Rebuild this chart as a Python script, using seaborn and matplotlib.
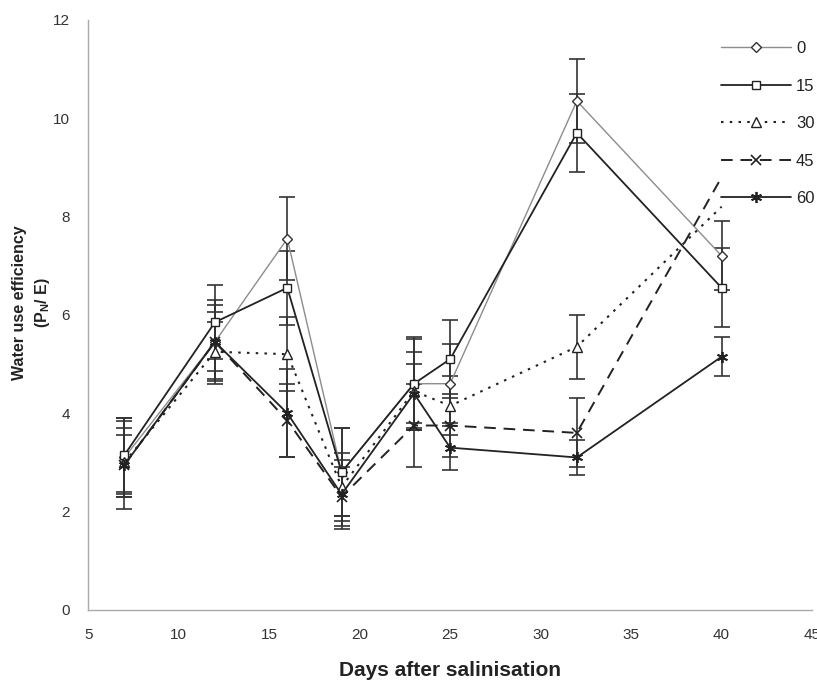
import numpy as np
import pandas as pd
import matplotlib
matplotlib.use("Agg")
import matplotlib.pyplot as plt
import seaborn as sns

days = [7, 12, 16, 19, 23, 25, 32, 40]
series_names = ["0", "15", "30", "45", "60"]

wue_0 = [3.1, 5.45, 7.55, 2.8, 4.6, 4.6, 10.35, 7.2]
wue_15 = [3.15, 5.85, 6.55, 2.8, 4.6, 5.1, 9.7, 6.55]
wue_30 = [3.0, 5.25, 5.2, 2.5, 4.45, 4.15, 5.35, 8.2]
wue_45 = [2.95, 5.45, 3.85, 2.3, 3.75, 3.75, 3.6, 8.8]
wue_60 = [2.95, 5.45, 4.0, 2.35, 4.4, 3.3, 3.1, 5.15]

err_0 = [0.8, 0.75, 0.85, 0.9, 0.9, 0.8, 0.85, 0.7]
err_15 = [0.75, 0.75, 0.75, 0.9, 0.95, 0.8, 0.8, 0.8]
err_30 = [0.7, 0.6, 0.75, 0.7, 0.8, 0.6, 0.65, 0.0]
err_45 = [0.6, 0.6, 0.75, 0.6, 0.85, 0.65, 0.7, 0.0]
err_60 = [0.9, 0.85, 0.9, 0.7, 0.6, 0.45, 0.35, 0.4]

values = [wue_0, wue_15, wue_30, wue_45, wue_60]
errors = [err_0, err_15, err_30, err_45, err_60]
# number of measured points for each series; the final segment of 30/45 has no marker
n_marked = [8, 8, 7, 7, 8]

sns.set_theme(style="white")
plt.rcParams["font.family"] = ["Liberation Sans", "DejaVu Sans"]
plt.rcParams["mathtext.fontset"] = "custom"
plt.rcParams["mathtext.rm"] = "Liberation Sans:bold"
plt.rcParams["mathtext.it"] = "Liberation Sans:bold"
plt.rcParams["mathtext.bf"] = "Liberation Sans:bold"

fig = plt.figure(figsize=(8.17, 6.83), dpi=100)
ax = fig.add_axes([0.108, 0.107, 0.886, 0.864])

styles = [
    dict(color="#8c8c8c", linestyle="-", linewidth=1.0, marker="D", markersize=5.5,
         markerfacecolor="white", markeredgecolor="#333333", markeredgewidth=1.0),
    dict(color="#222222", linestyle="-", linewidth=1.3, marker="s", markersize=6,
         markerfacecolor="white", markeredgecolor="#222222", markeredgewidth=1.0),
    dict(color="#222222", linestyle=(0, (1.2, 3.0)), linewidth=1.5, marker="^", markersize=7,
         markerfacecolor="white", markeredgecolor="#222222", markeredgewidth=1.0),
    dict(color="#222222", linestyle=(0, (6, 4)), linewidth=1.4, marker="x", markersize=7,
         markeredgecolor="#222222", markeredgewidth=1.2),
    dict(color="#222222", linestyle="-", linewidth=1.3, marker=(6, 2, 0), markersize=8,
         markeredgecolor="#222222", markeredgewidth=1.3),
]

for name, vals, errs, nm, st in zip(series_names, values, errors, n_marked, styles):
    df = pd.DataFrame({"day": days, "wue": vals})
    sns.lineplot(data=df, x="day", y="wue", ax=ax, label=name,
                 markevery=list(range(nm)), zorder=3, **st)
    d = np.array(days[:nm])
    v = np.array(vals[:nm])
    e = np.array(errs[:nm])
    ax.errorbar(d, v, yerr=e, fmt="none", ecolor="#333333", elinewidth=1.2,
                capsize=6, capthick=1.2, zorder=2)

ax.set_xlim(5, 45)
ax.set_ylim(0, 12)
ax.set_xticks(range(5, 46, 5))
ax.set_yticks(range(0, 13, 2))
sns.despine(ax=ax)
for s in ["left", "bottom"]:
    ax.spines[s].set_color("#aaaaaa")
    ax.spines[s].set_linewidth(1.0)
ax.tick_params(axis="both", which="major", length=5, width=1, color="#aaaaaa",
               labelsize=11, labelcolor="#333333", direction="out")
ax.tick_params(axis="x", pad=8)
ax.tick_params(axis="y", pad=8)

ax.set_xlabel("Days after salinisation", fontsize=15, fontweight="bold", labelpad=14,
              color="#222222")
ax.set_ylabel("Water use efficiency\n(P$_{\\mathrm{N}}$/ E)", fontsize=11.5,
              fontweight="bold", color="#222222", linespacing=1.4)
ax.yaxis.set_label_coords(-0.05, 0.52)

leg = ax.legend(loc="upper left", bbox_to_anchor=(0.865, 0.975), frameon=False,
                fontsize=12, handlelength=4.2, handletextpad=0.3, labelspacing=1.35,
                borderaxespad=0)
for t in leg.get_texts():
    t.set_color("#222222")

fig.savefig("out.png", dpi=100)
